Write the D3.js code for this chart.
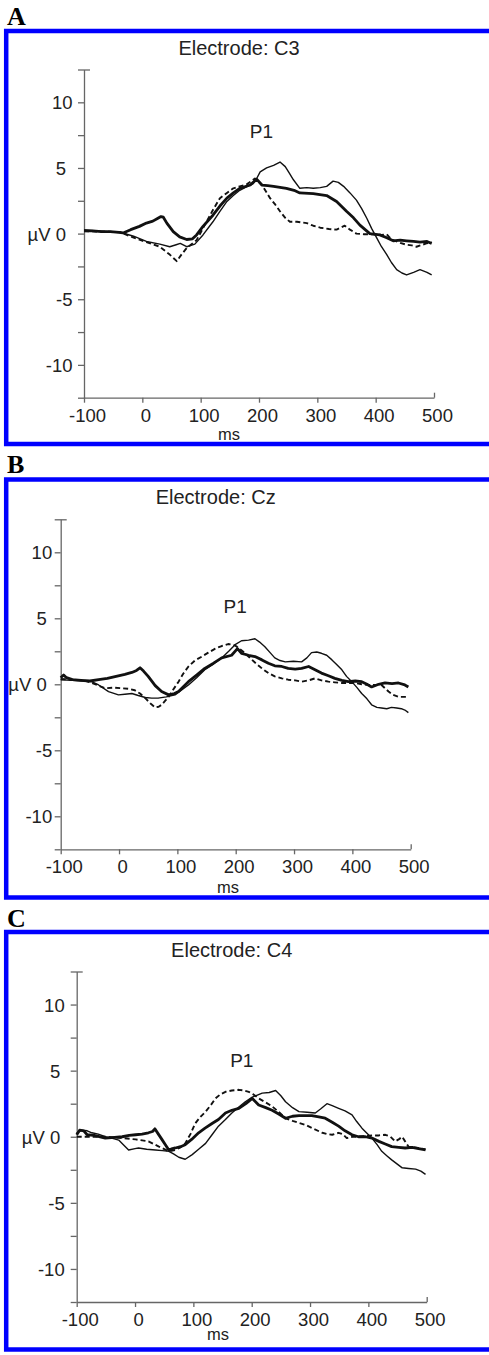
<!DOCTYPE html>
<html>
<head>
<meta charset="utf-8">
<script src="https://cdn.jsdelivr.net/npm/d3@7.9.0/dist/d3.min.js"></script>
<style>
  body { margin: 0; background: #fff; }
  svg { display: block; }
  text { font-family: "Liberation Sans", Arial, sans-serif; fill: #222; }
  .letter { font-family: "Liberation Serif", "Times New Roman", serif; font-weight: bold; font-size: 26px; fill: #000; }
</style>
</head>
<body>
<svg id="chart" width="489" height="1355"></svg>
<script>
// ---- data ----
const panelLetters = ['A', 'B', 'C'];
const electrodes = ['C3', 'Cz', 'C4'];
const timeTicks = [-100, 0, 100, 200, 300, 400, 500];
const voltTicks = [-12.5, -10, -7.5, -5, -2.5, 0, 2.5, 5, 7.5, 10, 12.5];
const voltLabels = ['', '-10', '', '-5', '', 'µV 0', '', '5', '', '10', ''];
const peakLabel = 'P1';
const peakPos = [[204, 7.27], [199, 5.4], [183, 5.3]];

// [ms, µV]
const c3Thick = [[-100,0.2],[-85,0.2],[-70,0.15],[-55,0.15],[-40,0.1],[-33,0.05],[-20,0.3],[-5,0.55],[7,0.8],[18,0.95],[26,1.15],[32,1.3],[36,1.25],[42,0.8],[53,0.15],[64,-0.25],[76,-0.45],[86,-0.4],[93,-0.1],[104,0.55],[121,1.4],[133,2.1],[145,2.7],[156,3.1],[167,3.45],[185,3.7],[196,4.15],[205,3.7],[215,3.65],[225,3.6],[247,3.45],[260,3.3],[270,3.1],[293,3.05],[316,2.9],[333,2.45],[350,1.7],[362,1.2],[373,0.65],[390,0.0],[407,-0.1],[418,-0.3],[430,-0.55],[442,-0.5],[453,-0.55],[465,-0.6],[476,-0.65],[488,-0.6],[496,-0.75]];
const c3Thin = [[-100,0.3],[-80,0.2],[-60,0.15],[-38,0.1],[-15,-0.2],[7,-0.6],[30,-0.8],[47,-1.0],[58,-0.85],[65,-0.75],[76,-1.0],[90,-0.8],[104,-0.1],[121,0.9],[133,1.7],[145,2.45],[156,2.9],[167,3.3],[180,3.6],[190,3.8],[196,4.2],[202,4.7],[213,5.0],[225,5.2],[236,5.45],[245,5.1],[252,4.6],[259,4.1],[270,3.45],[282,3.5],[293,3.45],[305,3.5],[316,3.6],[327,4.0],[336,3.9],[345,3.6],[356,3.1],[367,2.55],[376,1.9],[385,1.15],[393,0.4],[402,-0.35],[410,-1.0],[419,-1.6],[427,-2.2],[436,-2.75],[445,-3.0],[453,-3.15],[465,-2.95],[476,-2.75],[488,-2.95],[496,-3.15]];
const c3Dashed = [[-100,0.2],[-80,0.15],[-60,0.15],[-38,0.1],[-15,-0.3],[7,-0.65],[30,-1.0],[47,-1.6],[59,-2.1],[67,-1.6],[76,-1.1],[93,-0.5],[110,0.9],[121,1.8],[133,2.7],[145,3.1],[156,3.45],[167,3.6],[179,3.75],[193,4.2],[205,3.7],[212,3.2],[219,2.7],[228,2.2],[236,1.7],[245,1.2],[253,0.9],[265,0.9],[282,0.8],[293,0.6],[305,0.45],[320,0.35],[333,0.3],[347,0.6],[356,0.3],[367,0.0],[380,-0.05],[396,-0.05],[410,-0.1],[419,-0.05],[424,-0.3],[430,-0.5],[442,-0.7],[453,-0.85],[462,-0.9],[470,-1.0],[480,-0.85],[487,-0.75],[496,-0.65]];

const czThick = [[-100,0.5],[-95,0.7],[-90,0.5],[-80,0.35],[-65,0.3],[-50,0.25],[-35,0.35],[-20,0.45],[-5,0.6],[10,0.75],[22,0.9],[30,1.05],[36,1.25],[42,1.0],[50,0.6],[62,-0.1],[73,-0.55],[85,-0.8],[95,-0.7],[102,-0.55],[119,0.2],[133,0.7],[147,1.2],[162,1.6],[176,2.0],[193,2.2],[203,2.7],[210,2.35],[222,2.2],[233,2.1],[245,1.85],[256,1.6],[267,1.4],[279,1.35],[290,1.2],[302,1.15],[313,1.2],[325,1.35],[336,1.1],[347,0.85],[359,0.65],[370,0.45],[382,0.3],[393,0.2],[405,0.25],[416,0.2],[425,0.0],[433,-0.2],[445,0.0],[456,0.1],[468,0.05],[479,0.1],[490,-0.05],[496,-0.2]];
const czThin = [[-100,0.35],[-80,0.3],[-60,0.25],[-47,0.2],[-35,-0.05],[-18,-0.55],[-1,-0.8],[10,-0.75],[22,-0.7],[33,-0.85],[45,-1.0],[56,-1.05],[67,-1.05],[81,-0.95],[96,-0.8],[108,-0.4],[119,-0.05],[133,0.5],[147,1.1],[162,1.55],[176,2.0],[188,2.5],[199,3.0],[210,3.3],[222,3.35],[233,3.45],[241,3.2],[250,2.85],[259,2.4],[267,2.0],[276,1.8],[285,1.7],[299,1.75],[313,1.7],[322,2.0],[330,2.4],[339,2.45],[347,2.35],[356,2.2],[365,1.85],[373,1.5],[382,1.1],[390,0.6],[399,0.2],[408,-0.25],[416,-0.7],[425,-1.1],[433,-1.55],[442,-1.75],[450,-1.8],[459,-1.85],[467,-1.75],[476,-1.8],[484,-1.85],[490,-1.95],[496,-2.15]];
const czDashed = [[-100,0.4],[-80,0.35],[-60,0.3],[-47,0.1],[-35,-0.1],[-24,-0.3],[-10,-0.25],[5,-0.3],[18,-0.35],[27,-0.45],[36,-0.7],[45,-1.05],[55,-1.5],[62,-1.75],[68,-1.7],[73,-1.55],[80,-1.2],[85,-0.95],[93,-0.4],[102,0.2],[110,0.8],[119,1.35],[130,1.8],[142,2.1],[153,2.4],[165,2.7],[176,2.9],[187,3.05],[196,3.0],[202,2.85],[212,2.5],[222,2.1],[233,1.65],[245,1.2],[256,0.85],[267,0.6],[279,0.45],[290,0.35],[302,0.3],[313,0.2],[325,0.3],[336,0.45],[347,0.3],[359,0.2],[370,0.15],[382,0.1],[393,0.1],[405,0.1],[416,0.0],[427,-0.05],[440,-0.05],[450,-0.05],[456,-0.3],[462,-0.55],[470,-0.8],[479,-0.95],[488,-0.95],[496,-0.95]];

const c4Thick = [[-100,0.15],[-95,0.5],[-88,0.45],[-82,0.15],[-70,0.1],[-51,-0.1],[-35,-0.05],[-22,0.0],[-10,0.1],[1,0.15],[12,0.2],[23,0.3],[30,0.4],[34,0.6],[40,0.2],[46,-0.2],[52,-0.6],[58,-1.0],[64,-0.9],[69,-0.85],[78,-0.75],[86,-0.6],[97,-0.2],[109,0.3],[120,0.65],[132,1.0],[143,1.3],[155,1.8],[166,2.0],[178,2.15],[190,2.5],[201,2.9],[212,2.4],[224,2.2],[235,2.0],[247,1.7],[258,1.4],[270,1.55],[281,1.6],[292,1.6],[303,1.6],[315,1.5],[326,1.4],[338,1.1],[349,0.8],[360,0.45],[372,0.15],[383,0.0],[395,0.0],[406,-0.1],[418,-0.35],[429,-0.55],[440,-0.75],[452,-0.8],[463,-0.85],[475,-0.8],[486,-0.9],[498,-1.0]];
const c4Thin = [[-100,0.3],[-91,0.5],[-82,0.45],[-74,0.3],[-63,0.2],[-51,0.0],[-40,-0.1],[-28,-0.25],[-20,-0.6],[-11,-1.0],[0,-0.9],[6,-0.85],[20,-0.95],[35,-1.0],[47,-1.05],[58,-1.1],[66,-1.3],[75,-1.55],[86,-1.7],[98,-1.35],[109,-0.95],[121,-0.5],[132,0.15],[143,0.8],[155,1.3],[166,1.8],[178,2.25],[189,2.65],[201,3.0],[218,3.3],[230,3.35],[241,3.5],[250,3.1],[258,2.65],[270,2.2],[281,1.9],[295,1.85],[309,1.8],[318,2.1],[329,2.5],[338,2.35],[349,2.15],[360,1.95],[372,1.65],[380,1.15],[389,0.65],[398,0.25],[406,-0.1],[415,-0.6],[423,-1.1],[432,-1.45],[440,-1.75],[449,-2.05],[458,-2.35],[469,-2.4],[481,-2.45],[490,-2.6],[498,-2.85]];
const c4Dashed = [[-100,0.0],[-80,0.0],[-51,0.0],[-22,-0.1],[1,-0.2],[23,-0.35],[41,-0.75],[58,-1.1],[69,-1.0],[78,-0.8],[86,-0.5],[95,0.2],[103,1.0],[112,1.5],[121,1.9],[130,2.4],[138,2.9],[146,3.2],[155,3.4],[166,3.5],[178,3.55],[187,3.5],[195,3.4],[203,3.2],[212,2.9],[224,2.6],[235,2.3],[247,1.85],[258,1.4],[270,1.2],[281,1.05],[292,0.9],[306,0.6],[321,0.3],[330,0.2],[338,0.15],[349,0.3],[356,0.2],[363,-0.1],[373,0.0],[383,0.0],[395,0.05],[406,0.1],[418,0.1],[429,0.15],[438,0.0],[446,-0.35],[452,-0.2],[458,0.0],[463,-0.35],[469,-0.75],[478,-0.8],[486,-0.85],[498,-0.95]];

const panelSeries = [
  [c3Thick, c3Thin, c3Dashed],
  [czThick, czThin, czDashed],
  [c4Thick, c4Thin, c4Dashed],
];

// ---- layout ----
const layout = [
  { frameTop: 31, frameBottom: 444, letterY: 25, x0: 84, yTop: 69.5, yBottom: 397.7, g2: 11.5, g1: 18, msX: 229, msY: 440 },
  { frameTop: 479.5, frameBottom: 897.5, letterY: 472.5, x0: 60.7, yTop: 519.3, yBottom: 849.3, g2: 8.5, g1: 14, msX: 228, msY: 893 },
  { frameTop: 932, frameBottom: 1349.5, letterY: 926.5, x0: 76.7, yTop: 971.5, yBottom: 1302, g2: 12, g1: 16.5, msX: 218, msY: 1340 },
];
const lineStyles = [
  { width: 2.8, dash: null },
  { width: 1.4, dash: null },
  { width: 1.9, dash: '5,3' },
];

const svg = d3.select('#chart');

function drawPanel(i) {
  const L = layout[i];
  const g = svg.append('g');

  const x = d3.scaleLinear().domain([-100, 500]).range([L.x0, L.x0 + 350]);
  const y = d3.scaleLinear().domain([-12.5, 12.5]).range([L.yBottom, L.yTop]);

  // y axis
  const yAxis = g.append('g')
    .attr('transform', `translate(${L.x0},0)`)
    .call(d3.axisLeft(y).tickValues(voltTicks).tickSize(6).tickSizeOuter(0)
      .tickFormat((d, k) => voltLabels[k]));
  yAxis.selectAll('.tick text')
    .attr('x', (d, k) => {
      const lab = voltLabels[k];
      return lab.length >= 2 && lab !== 'µV 0' ? -L.g2 : -L.g1;
    })
    .attr('dy', '0.35em')
    .style('font-size', '18.5px');
  yAxis.selectAll('.tick line').filter(d => d === 12.5).attr('x1', 6);

  // x axis
  const xAxis = g.append('g')
    .attr('transform', `translate(0,${L.yBottom})`)
    .call(d3.axisBottom(x).tickValues(timeTicks).tickSize(5).tickSizeOuter(0)
      .tickFormat(d => String(d)));
  xAxis.selectAll('.tick text')
    .attr('y', 24).attr('dy', 0).attr('dx', 3)
    .style('font-size', '18.5px');
  xAxis.selectAll('.tick line').filter(d => d === 500).attr('y2', -5);

  g.selectAll('.domain, .tick line').attr('stroke', '#666').attr('stroke-width', 1.3);
  g.selectAll('.tick text').attr('fill', '#222');

  // curves
  const line = d3.line().x(d => x(d[0])).y(d => y(d[1]));
  panelSeries[i].forEach((s, k) => {
    g.append('path')
      .attr('d', line(s))
      .attr('fill', 'none')
      .attr('stroke', '#111')
      .attr('stroke-width', lineStyles[k].width)
      .attr('stroke-dasharray', lineStyles[k].dash)
      .attr('stroke-linejoin', 'round');
  });

  // texts
  g.append('text')
    .attr('x', L.x0 + 155).attr('y', L.yTop - 15)
    .attr('text-anchor', 'middle').style('font-size', '20px')
    .text(`Electrode: ${electrodes[i]}`);
  g.append('text')
    .attr('x', x(peakPos[i][0])).attr('y', y(peakPos[i][1]))
    .attr('text-anchor', 'middle').style('font-size', '19px')
    .text(peakLabel);
  g.append('text')
    .attr('x', L.msX).attr('y', L.msY)
    .attr('text-anchor', 'middle').style('font-size', '16.5px')
    .text('ms');

  // frame + letter
  g.append('rect')
    .attr('x', 6.2).attr('y', L.frameTop)
    .attr('width', 520).attr('height', L.frameBottom - L.frameTop)
    .attr('fill', 'none').attr('stroke', '#0000ff').attr('stroke-width', 4.5);
  g.append('text').attr('class', 'letter')
    .attr('x', 7).attr('y', L.letterY)
    .text(panelLetters[i]);
}

panelLetters.forEach((_, i) => drawPanel(i));
</script>
</body>
</html>
